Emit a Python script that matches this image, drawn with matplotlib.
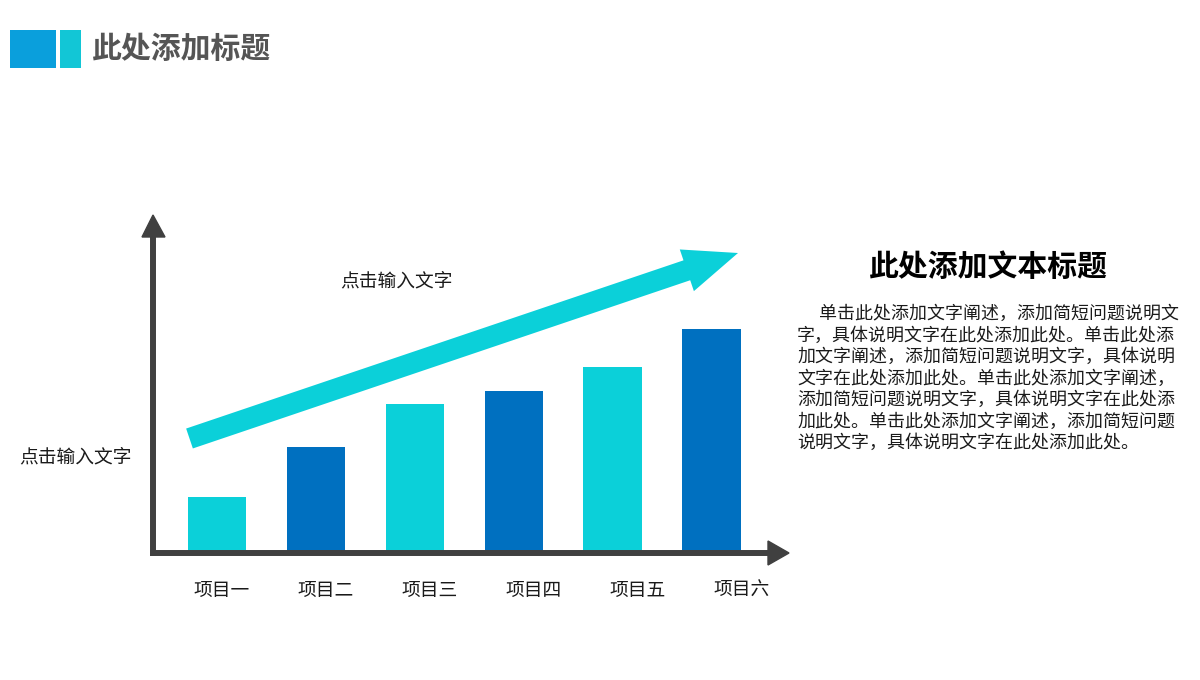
import numpy as np
import matplotlib
matplotlib.use("Agg")
import matplotlib.pyplot as plt
from matplotlib.patches import Rectangle, Polygon, FancyArrow

plt.rcParams['font.family'] = ['Noto Sans CJK SC', 'DejaVu Sans']

# Chart data
categories = ["项目一", "项目二", "项目三", "项目四", "项目五", "项目六"]
values = [55, 105, 148, 161, 185, 223]
bar_colors = ["#0BD0D9", "#0070C0", "#0BD0D9", "#0070C0", "#0BD0D9", "#0070C0"]

page_title = "此处添加标题"
side_title = "此处添加文本标题"
side_lines = [
    "单击此处添加文字阐述，添加简短问题说明文",
    "字，具体说明文字在此处添加此处。单击此处添",
    "加文字阐述，添加简短问题说明文字，具体说明",
    "文字在此处添加此处。单击此处添加文字阐述，",
    "添加简短问题说明文字，具体说明文字在此处添",
    "加此处。单击此处添加文字阐述，添加简短问题",
    "说明文字，具体说明文字在此处添加此处。",
]
hint_text = "点击输入文字"

W, H = 1200, 680
fig = plt.figure(figsize=(W / 100, H / 100), dpi=100, facecolor="white")

# Bar chart axes placed in pixel box (x 152..788, y 215..552)
ax = fig.add_axes([152 / W, (H - 552) / H, (788 - 152) / W, (552 - 215) / H])
x = np.arange(len(categories))
ax.bar(x, values, width=0.59, color=bar_colors, zorder=2)
ax.set_xlim(-0.657, 5.773)
ax.set_ylim(0, 337)
ax.set_xticks(x * 1.05 + 0.05)
ax.set_xticklabels(categories, fontsize=13.5, color="#1a1a1a")
ax.tick_params(axis="x", length=0, pad=20)
ax.set_yticks([])
for s in ax.spines.values():
    s.set_visible(False)
ax.patch.set_alpha(0)

# Overlay in pixel coordinates for arrows and text
ov = fig.add_axes([0, 0, 1, 1], zorder=5)
ov.set_xlim(0, W)
ov.set_ylim(H, 0)
ov.axis("off")
ov.patch.set_alpha(0)

axis_color = "#404040"
# x axis
ov.plot([150, 772], [553, 553], color=axis_color, lw=4.3, solid_capstyle="butt")
ov.add_patch(Polygon([(768, 541), (789, 553), (768, 565)], closed=True, color=axis_color))
# y axis
ov.plot([153, 153], [556, 234], color=axis_color, lw=4.3, solid_capstyle="butt")
ov.add_patch(Polygon([(142, 237), (153, 215), (165, 237)], closed=True, color=axis_color))

# trend arrow
ov.add_patch(FancyArrow(189.5, 438.5, 548.5, -185.5, width=21, head_width=44,
                        head_length=54, length_includes_head=True,
                        color="#0BD0D9", lw=0))

ov.text(396, 281, hint_text, fontsize=13.5, ha="center", va="center", color="#1a1a1a")
ov.text(19, 457, hint_text, fontsize=13.5, ha="left", va="center", color="#1a1a1a")

# page header
ov.add_patch(Rectangle((10, 30), 46, 38, color="#0A9FDC", lw=0))
ov.add_patch(Rectangle((60, 30), 21, 38, color="#12C6D6", lw=0))
ov.text(92, 49, page_title, fontsize=21.5, fontweight="bold", color="#555555",
        ha="left", va="center")

# side text block
ov.text(988, 267, side_title, fontsize=21.5, fontweight="bold", color="black",
        ha="center", va="center")
for i, line in enumerate(side_lines):
    x0 = 819 if i == 0 else 797
    ov.text(x0, 314 + i * 21.5, line, fontsize=12.95, color="#1a1a1a",
            ha="left", va="center")

fig.savefig("out.png", dpi=100, facecolor="white")
plt.close(fig)
